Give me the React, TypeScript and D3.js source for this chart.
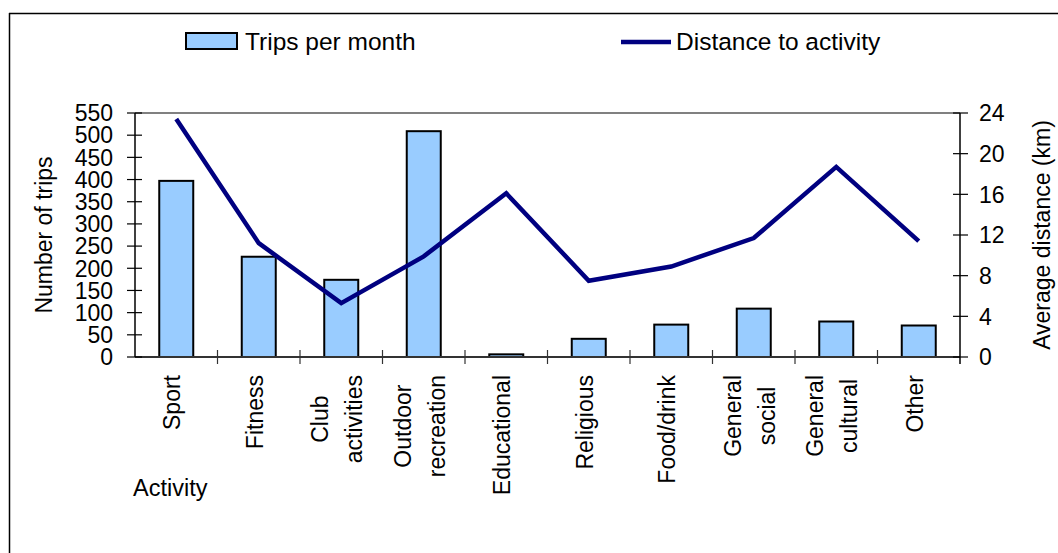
import React, { useEffect, useRef } from "react";
import * as d3 from "d3";

const categories: string[] = [
  "Sport",
  "Fitness",
  "Club\nactivities",
  "Outdoor\nrecreation",
  "Educational",
  "Religious",
  "Food/drink",
  "General\nsocial",
  "General\ncultural",
  "Other",
];
const tripsPerMonth: number[] = [397, 226, 174, 509, 6, 41, 73, 109, 80, 71];
const distanceKm: number[] = [23.4, 11.2, 5.3, 9.9, 16.1, 7.5, 8.9, 11.7, 18.7, 11.4];
const leftTicks: number[] = [0, 50, 100, 150, 200, 250, 300, 350, 400, 450, 500, 550];
const rightTicks: number[] = [0, 4, 8, 12, 16, 20, 24];

const W = 1058;
const H = 553;
const FONT = "'Liberation Sans', Arial, sans-serif";

export default function App() {
  const ref = useRef<SVGSVGElement>(null);

  useEffect(() => {
    const svg = d3.select(ref.current);
    svg.selectAll("*").remove();

    const left = 135, right = 960, top = 113, bottom = 357;
    const x = d3.scaleBand<string>().domain(categories).range([left, right]).paddingInner(0).paddingOuter(0);
    const yL = d3.scaleLinear().domain([0, 550]).range([bottom, top]);
    const yR = d3.scaleLinear().domain([0, 24]).range([bottom, top]);
    const cx = (c: string) => (x(c) as number) + x.bandwidth() / 2;

    // outer frame
    svg.append("line").attr("x1", 9).attr("x2", W).attr("y1", 13.5).attr("y2", 13.5).attr("stroke", "#000").attr("stroke-width", 1.5);
    svg.append("line").attr("x1", 9.5).attr("x2", 9.5).attr("y1", 13).attr("y2", H).attr("stroke", "#000").attr("stroke-width", 1.5);

    // plot top border
    svg.append("line").attr("x1", left).attr("x2", right).attr("y1", top).attr("y2", top).attr("stroke", "#808080").attr("stroke-width", 2);

    // bars
    const barW = 34;
    svg.append("g").selectAll("rect").data(categories).join("rect")
      .attr("x", (c) => cx(c) - barW / 2)
      .attr("y", (c, i) => yL(tripsPerMonth[i]))
      .attr("width", barW)
      .attr("height", (c, i) => bottom - yL(tripsPerMonth[i]))
      .attr("fill", "#99CCFF")
      .attr("stroke", "#000")
      .attr("stroke-width", 2);

    // x axis line
    svg.append("line").attr("x1", left).attr("x2", right).attr("y1", bottom).attr("y2", bottom).attr("stroke", "#333").attr("stroke-width", 2);
    // category separator ticks
    const seps = categories.map((c) => x(c) as number).slice(1);
    svg.append("g").selectAll("line").data(seps).join("line")
      .attr("x1", (d) => d).attr("x2", (d) => d).attr("y1", bottom - 7).attr("y2", bottom + 7)
      .attr("stroke", "#333").attr("stroke-width", 1.2);

    // line series
    const line = d3.line<number>().x((d, i) => cx(categories[i])).y((d) => yR(d));
    svg.append("path").datum(distanceKm).attr("d", line).attr("fill", "none")
      .attr("stroke", "#000080").attr("stroke-width", 4.5).attr("stroke-linejoin", "miter");

    // left axis
    svg.append("line").attr("x1", left).attr("x2", left).attr("y1", top).attr("y2", bottom).attr("stroke", "#000").attr("stroke-width", 1.5);
    const gl = svg.append("g");
    gl.selectAll("line").data(leftTicks).join("line")
      .attr("x1", left - 8).attr("x2", left + 7).attr("y1", (d) => yL(d)).attr("y2", (d) => yL(d))
      .attr("stroke", "#000").attr("stroke-width", 1.2);
    gl.selectAll("text").data(leftTicks).join("text")
      .attr("x", 113).attr("y", (d) => yL(d)).attr("dy", "0.36em")
      .attr("text-anchor", "end").attr("font-family", FONT).attr("font-size", 23).attr("fill", "#000")
      .text((d) => String(d));

    // right axis
    svg.append("line").attr("x1", right).attr("x2", right).attr("y1", top).attr("y2", bottom + 7).attr("stroke", "#000").attr("stroke-width", 1.5);
    const gr = svg.append("g");
    gr.selectAll("line").data(rightTicks).join("line")
      .attr("x1", right - 7).attr("x2", right + 8).attr("y1", (d) => yR(d)).attr("y2", (d) => yR(d))
      .attr("stroke", "#000").attr("stroke-width", 1.2);
    gr.selectAll("text").data(rightTicks).join("text")
      .attr("x", 979).attr("y", (d) => yR(d)).attr("dy", "0.36em")
      .attr("text-anchor", "start").attr("font-family", FONT).attr("font-size", 23).attr("fill", "#000")
      .text((d) => String(d));

    // axis titles
    svg.append("text").attr("transform", `translate(52,${(top + bottom) / 2}) rotate(-90)`)
      .attr("text-anchor", "middle").attr("font-family", FONT).attr("font-size", 23).text("Number of trips");
    svg.append("text").attr("transform", `translate(1050,${(top + bottom) / 2}) rotate(-90)`)
      .attr("text-anchor", "middle").attr("font-family", FONT).attr("font-size", 23).text("Average distance (km)");
    svg.append("text").attr("x", 133).attr("y", 496).attr("font-family", FONT).attr("font-size", 23.5).text("Activity");

    // category labels
    const labelTop = 375;
    categories.forEach((c) => {
      const lines = c.split("\n");
      const g = svg.append("g");
      const texts = lines.map((ln) =>
        g.append("text").attr("font-family", FONT).attr("font-size", 23).attr("text-anchor", "middle").text(ln)
      );
      const maxLen = d3.max(texts, (t) => (t.node() as SVGTextElement).getComputedTextLength()) || 0;
      const yc = labelTop + maxLen / 2;
      texts.forEach((t, i) => {
        const bx = cx(c) + 4 + (i - (lines.length - 1) / 2) * 34;
        t.attr("transform", `translate(${bx},${yc}) rotate(-90)`);
      });
    });

    // legend
    svg.append("rect").attr("x", 186).attr("y", 33).attr("width", 51).attr("height", 16)
      .attr("fill", "#99CCFF").attr("stroke", "#000").attr("stroke-width", 2);
    svg.append("text").attr("x", 245).attr("y", 50).attr("font-family", FONT).attr("font-size", 24.5).text("Trips per month");
    svg.append("line").attr("x1", 621).attr("x2", 671).attr("y1", 42).attr("y2", 42)
      .attr("stroke", "#000080").attr("stroke-width", 4.5);
    svg.append("text").attr("x", 676).attr("y", 50).attr("font-family", FONT).attr("font-size", 24.5).text("Distance to activity");
  }, []);

  return (
    <svg
      ref={ref}
      width={W}
      height={H}
      style={{ position: "absolute", left: 0, top: 0, background: "#fff" }}
    />
  );
}
